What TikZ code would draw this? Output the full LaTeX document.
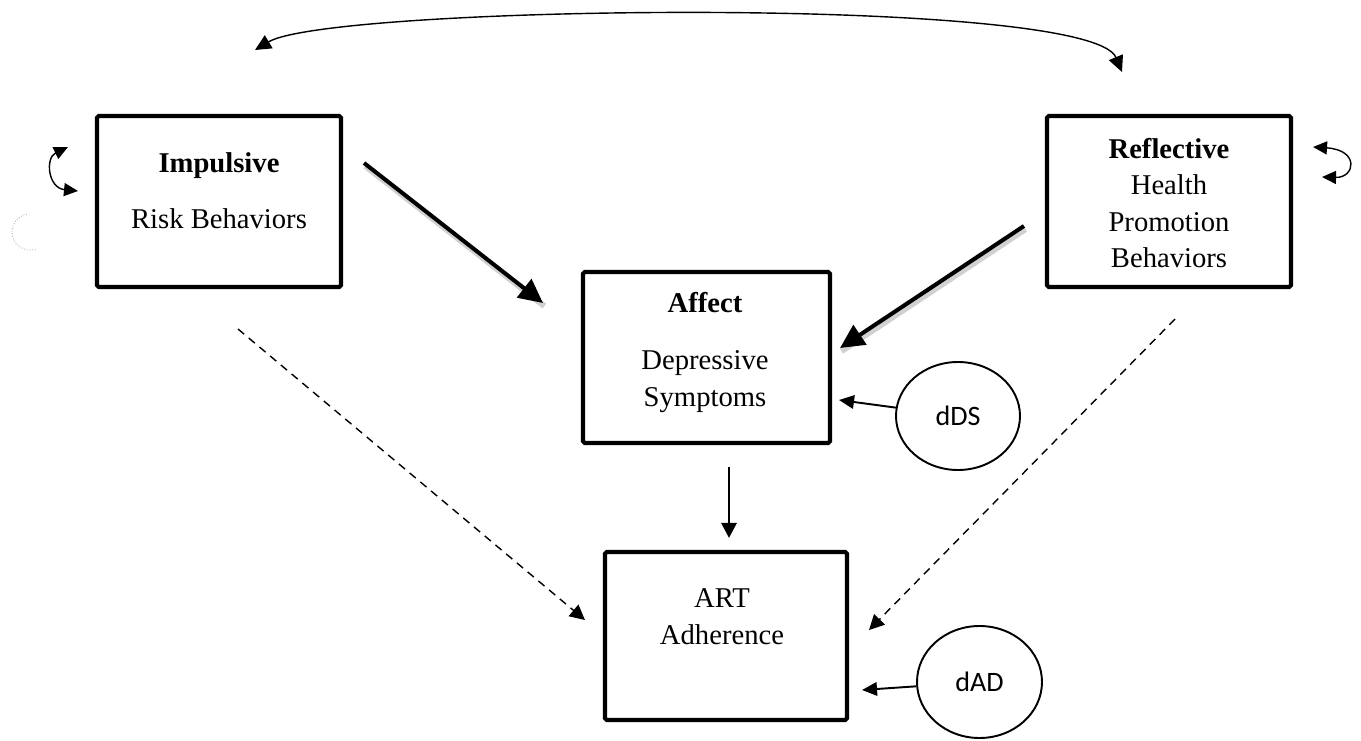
\documentclass[tikz,border=0pt]{standalone}
\usepackage{fontspec}
\setmainfont{Liberation Serif}
\newfontfamily\calib{Carlito}
\usetikzlibrary{arrows.meta, positioning, calc, shapes.geometric}
\tikzset{
  box/.style={draw=black, line width=2.3pt, rounded corners=1pt, minimum width=4.88cm,
              minimum height=3.42cm, inner sep=0pt},
  err/.style={ellipse, draw=black, line width=1.1pt, inner sep=0pt,
              font=\calib\fontsize{16}{19}\selectfont},
  lbl/.style={align=center, font=\fontsize{16.3}{20.7}\selectfont, inner sep=0pt},
  fat/.style={-{Triangle[length=4.8mm,width=4.6mm]}, line width=2.3pt,
              preaction={draw=black!18, line width=3.4pt, -, transform canvas={shift={(0.8pt,-1.8pt)}}}},
  arr/.style={-{Triangle[length=3mm,width=3mm]}, line width=1.6pt},
  thin/.style={-{Triangle[length=3mm,width=2.7mm]}, line width=1.1pt},
  indir/.style={-{Triangle[length=3mm,width=3mm]}, line width=0.8pt, dash pattern=on 1.6mm off 1.2mm},
  cov/.style={{Triangle[length=3.2mm,width=3mm]}-{Triangle[length=3.2mm,width=3mm]}, line width=0.8pt},
  loopy/.style={{Triangle[length=2.8mm,width=2.6mm]}-{Triangle[length=2.8mm,width=2.6mm]}, line width=0.8pt},
}

\begin{document}
\begin{tikzpicture}[x=1cm, y=1cm]
\useasboundingbox (0,0) rectangle (27.22,14.8);

% the four variables
\node[box] (imp) at (4.38,10.77) {};
\node[box] (refl) at (23.38,10.77) {};
\node[box, minimum width=4.94cm] (aff) at (14.13,7.65) {};
\node[box, minimum width=4.84cm, minimum height=3.36cm] (art) at (14.52,2.08) {};
\node[lbl] (imp-txt) at (4.38,10.99) {\textbf{Impulsive}\\[0.4cm]Risk Behaviors};
\node[lbl] (refl-txt) at (23.38,10.74) {\textbf{Reflective}\\Health\\Promotion\\Behaviors};
\node[lbl] (aff-txt) at (14.1,7.75) {\textbf{Affect}\\[0.42cm]Depressive\\Symptoms};
\node[lbl] (art-txt) at (14.44,2.47) {ART\\Adherence};

% disturbances
\node[err, minimum width=2.48cm, minimum height=2.16cm] (dds) at (19.16,6.48) {dDS};
\node[err, minimum width=2.5cm, minimum height=2.24cm] (dad) at (19.59,1.16) {dAD};

% direct paths
\draw[fat] ([xshift=4.2mm,yshift=7.7mm]imp.east) -- ([xshift=-7.6mm,yshift=10.9mm]aff.west);
\draw[fat] ([xshift=-4.2mm,yshift=-4.9mm]refl.west) -- ([xshift=1.6mm,yshift=1.9mm]aff.east);
\draw[arr] ([xshift=4.5mm,yshift=-4.4mm]aff.south) -- ([xshift=0.6mm,yshift=2.4mm]art.north);
\draw[thin] (dds) -- ([xshift=1.4mm,yshift=-8.5mm]aff.east);
\draw[thin] (dad) -- ([xshift=2.6mm,yshift=-10.8mm]art.east);

% indirect paths
\draw[indir] ([xshift=3.8mm,yshift=-8mm]imp.south) -- ([xshift=-3.6mm,yshift=3.2mm]art.west);
\draw[indir] ([xshift=1.2mm,yshift=-6mm]refl.south) -- ([xshift=4mm,yshift=1.2mm]art.east);

% covariance and variances
\coordinate (cov-l) at (5.1,13.8);
\coordinate (cov-r) at (22.44,13.36);
\draw[cov] (cov-l) .. controls (6.6,14.7) and (21.8,14.9) .. (cov-r);
\coordinate (imp-v1) at (1.36,11.86);
\coordinate (imp-v2) at (1.56,10.98);
\draw[loopy] (imp-v1) .. controls (0.9,11.64) and (0.96,11.04) .. (imp-v2);
\coordinate (refl-v1) at (26.26,11.86);
\coordinate (refl-v2) at (26.44,11.26);
\draw[loopy] (refl-v1) .. controls (27.2,11.8) and (27.1,11.24) .. (refl-v2);

% faint leftover mark
\draw[black!30, densely dotted, line width=0.5pt] (0.5375,10.5145) arc[start angle=100, end angle=290, radius=0.36];
\end{tikzpicture}
\end{document}
